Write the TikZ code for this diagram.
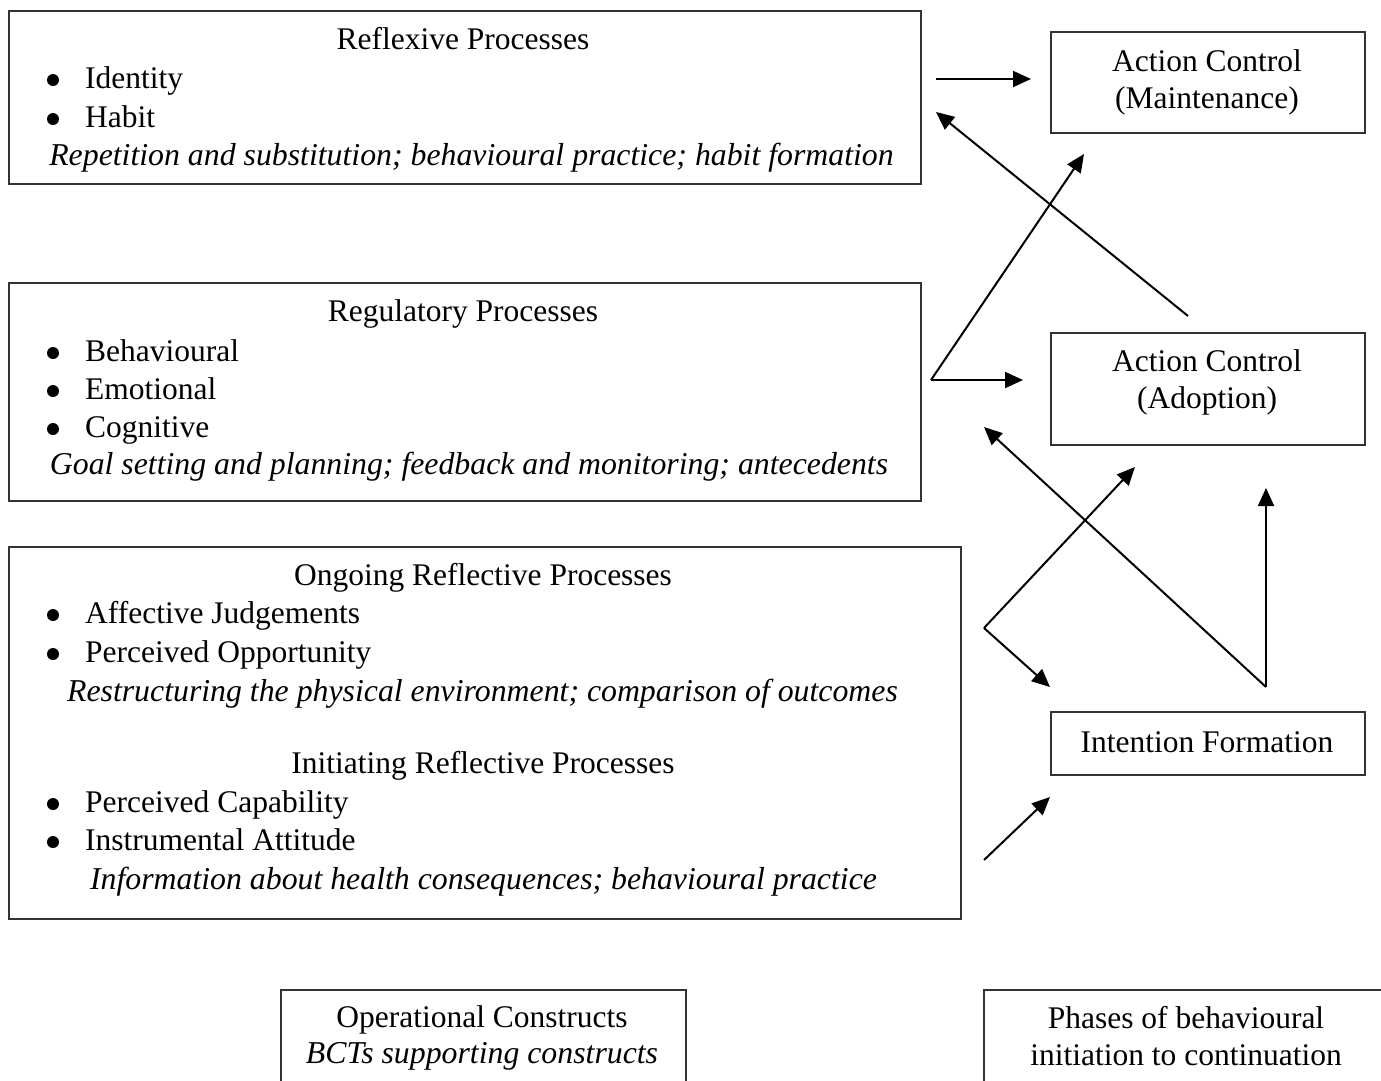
\documentclass[tikz,border=0pt]{standalone}
\usepackage{fontspec}
\setmainfont{Liberation Serif}
\usetikzlibrary{arrows.meta}
\begin{document}
\begin{tikzpicture}[x=1pt,y=-1pt,
  box/.style={draw=black!80, line width=1.5pt, inner sep=0pt, anchor=north west},
  txt/.style={inner sep=0pt, anchor=base, font=\fontsize{31.5}{38}\selectfont},
  ltxt/.style={txt, anchor=base west},
  ctxt/.style={txt, font=\fontsize{31.8}{38}\selectfont\itshape},
  bul/.style={circle, fill=black, inner sep=0pt, minimum size=12pt},
  arr/.style={line width=2pt, -{Triangle[length=18pt,width=16pt]}}]
\useasboundingbox (0,0) rectangle (1381,1080);

% ---------- left column: process boxes ----------
\node[box, minimum width=912pt, minimum height=173pt] (reflexive) at (8,10) {};
\node[txt] (reflexiveT) at (463,49) {Reflexive Processes};
\node[bul] (rb1) at (53,80) {};
\node[ltxt] (ri1) at (85,88) {Identity};
\node[bul] (rb2) at (53,119) {};
\node[ltxt] (ri2) at (85,127) {Habit};
\node[ctxt] (rbct) at (471.5,165) {Repetition and substitution; behavioural practice; habit formation};

\node[box, minimum width=912pt, minimum height=218pt] (regulatory) at (8,282) {};
\node[txt] (regulatoryT) at (463,321) {Regulatory Processes};
\node[bul] (gb1) at (53,353) {};
\node[ltxt] (gi1) at (85,361) {Behavioural};
\node[bul] (gb2) at (53,391) {};
\node[ltxt] (gi2) at (85,399) {Emotional};
\node[bul] (gb3) at (53,429) {};
\node[ltxt] (gi3) at (85,437) {Cognitive};
\node[ctxt] (gbct) at (469,474) {Goal setting and planning; feedback and monitoring; antecedents};

\node[box, minimum width=952pt, minimum height=372pt] (reflective) at (8,546) {};
\node[txt] (ongoingT) at (483,585) {Ongoing Reflective Processes};
\node[bul] (ob1) at (53,615) {};
\node[ltxt] (oi1) at (85,623) {Affective Judgements};
\node[bul] (ob2) at (53,654) {};
\node[ltxt] (oi2) at (85,662) {Perceived Opportunity};
\node[ctxt] (obct) at (482.5,701) {Restructuring the physical environment; comparison of outcomes};
\node[txt] (initiatingT) at (483,773) {Initiating Reflective Processes};
\node[bul] (ib1) at (53,804) {};
\node[ltxt] (ii1) at (85,812) {Perceived Capability};
\node[bul] (ib2) at (53,842) {};
\node[ltxt] (ii2) at (85,850) {Instrumental Attitude};
\node[ctxt] (ibct) at (483.5,889) {Information about health consequences; behavioural practice};

% ---------- right column: phases ----------
\node[box, minimum width=314pt, minimum height=101pt] (maint) at (1050,31) {};
\node[txt] (maintA) at (1207,71) {Action Control};
\node[txt] (maintB) at (1207,108) {(Maintenance)};

\node[box, minimum width=314pt, minimum height=112pt] (adopt) at (1050,332) {};
\node[txt] (adoptA) at (1207,371) {Action Control};
\node[txt] (adoptB) at (1207,408) {(Adoption)};

\node[box, minimum width=314pt, minimum height=63pt] (intent) at (1050,711) {};
\node[txt] (intentT) at (1207,752) {Intention Formation};

% ---------- bottom legend ----------
\node[box, minimum width=405pt, minimum height=120pt] (oper) at (280,989) {};
\node[txt] (operA) at (482,1027) {Operational Constructs};
\node[ctxt] (operB) at (482,1063) {BCTs supporting constructs};

\node[box, minimum width=420pt, minimum height=120pt] (phases) at (983,989) {};
\node[txt] (phasesA) at (1186,1028) {Phases of behavioural};
\node[txt] (phasesB) at (1186,1065) {initiation to continuation};

% ---------- connectors ----------
\coordinate (a1s) at (936,79);   \coordinate (a1e) at (1031,79);
\coordinate (a2s) at (1188,316); \coordinate (a2e) at (936,112);
\coordinate (fork1) at (931,380);
\coordinate (a3e) at (1084,154); \coordinate (a4e) at (1023,380);
\coordinate (fork2) at (984,628);
\coordinate (a6e) at (1135,467); \coordinate (a7e) at (1050,687);
\coordinate (fork3) at (1266,687);
\coordinate (a5e) at (984,427);  \coordinate (a8e) at (1266,488);
\coordinate (a9s) at (984,860);  \coordinate (a9e) at (1050,797);

\draw[arr] (a1s) -- (a1e);
\draw[arr] (a2s) -- (a2e);
\draw[arr] (fork1) -- (a3e);
\draw[arr] (fork1) -- (a4e);
\draw[arr] (fork2) -- (a6e);
\draw[arr] (fork2) -- (a7e);
\draw[arr] (fork3) -- (a5e);
\draw[arr] (fork3) -- (a8e);
\draw[arr] (a9s) -- (a9e);
\end{tikzpicture}
\end{document}
